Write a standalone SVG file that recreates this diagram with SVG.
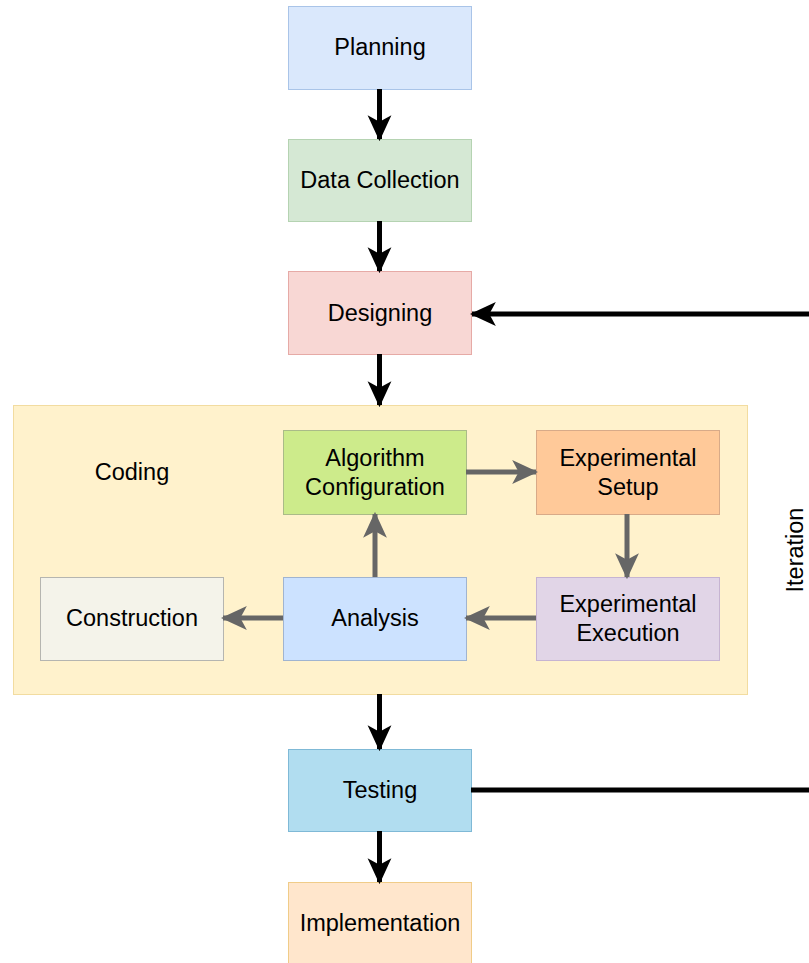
<svg xmlns="http://www.w3.org/2000/svg" width="809" height="963" viewBox="0 0 809 963">
<style>
text{font-family:"Liberation Sans",Arial,sans-serif;font-size:23.5px;fill:#000;text-anchor:middle;dominant-baseline:central}
.k{stroke:#000;stroke-width:5;fill:none}
.g{stroke:#666;stroke-width:5;fill:none}
</style>
<defs>
<marker id="ak" markerUnits="userSpaceOnUse" markerWidth="26" markerHeight="26" viewBox="0 0 24 24" refX="22" refY="12" orient="auto"><path d="M0,1 L24,12 L0,23 L6,12 Z" fill="#000"/></marker>
<marker id="ag" markerUnits="userSpaceOnUse" markerWidth="26" markerHeight="26" viewBox="0 0 24 24" refX="22" refY="12" orient="auto"><path d="M0,1 L24,12 L0,23 L6,12 Z" fill="#666"/></marker>
</defs>
<g id="coding">
<rect x="13.5" y="405.5" width="734" height="289" fill="#fff2cc" stroke="#f2dca0"/>
<text x="132" y="472">Coding</text>
</g>
<g id="planning"><rect x="288.5" y="6.5" width="183" height="83" fill="#dae8fc" stroke="#a9c4e8"/><text x="380" y="47">Planning</text></g>
<g id="datacollection"><rect x="288.5" y="139.5" width="183" height="82" fill="#d5e8d4" stroke="#b5d3b2"/><text x="380" y="180">Data Collection</text></g>
<g id="designing"><rect x="288.5" y="271.5" width="183" height="83" fill="#f8d7d4" stroke="#e6aaa6"/><text x="380" y="313">Designing</text></g>
<g id="algorithm"><rect x="283.5" y="430.5" width="183" height="84" fill="#cdeb8b" stroke="#aabb88"/><text x="375" y="458">Algorithm</text><text x="375" y="487">Configuration</text></g>
<g id="setup"><rect x="536.5" y="430.5" width="183" height="84" fill="#ffc999" stroke="#d8aa88"/><text x="628" y="458">Experimental</text><text x="628" y="487">Setup</text></g>
<g id="construction"><rect x="40.5" y="577.5" width="183" height="83" fill="#f4f3ea" stroke="#b5b5b0"/><text x="132" y="618">Construction</text></g>
<g id="analysis"><rect x="283.5" y="577.5" width="183" height="83" fill="#cce2ff" stroke="#a0b4d0"/><text x="375" y="618">Analysis</text></g>
<g id="execution"><rect x="536.5" y="577.5" width="183" height="83" fill="#e1d5e7" stroke="#c6b4d2"/><text x="628" y="604">Experimental</text><text x="628" y="633">Execution</text></g>
<g id="testing"><rect x="288.5" y="749.5" width="183" height="82" fill="#b1ddf0" stroke="#7fb9d6"/><text x="380" y="790">Testing</text></g>
<g id="implementation"><rect x="288.5" y="882.5" width="183" height="84" fill="#ffe6cc" stroke="#f0cc88"/><text x="380" y="923">Implementation</text></g>
<g id="iteration-label"><text x="795" y="550" transform="rotate(-90 795 550)">Iteration</text></g>
<g id="connectors">
<line class="k" x1="379.5" y1="89" x2="379.5" y2="139" marker-end="url(#ak)"/>
<line class="k" x1="379.5" y1="221" x2="379.5" y2="271" marker-end="url(#ak)"/>
<line class="k" x1="379.5" y1="354" x2="379.5" y2="405" marker-end="url(#ak)"/>
<line class="k" x1="379.5" y1="694" x2="379.5" y2="749" marker-end="url(#ak)"/>
<line class="k" x1="379.5" y1="831" x2="379.5" y2="882" marker-end="url(#ak)"/>
<line class="k" x1="471" y1="790" x2="809" y2="790"/>
<line class="k" x1="809" y1="314" x2="472" y2="314" marker-end="url(#ak)"/>
<line class="g" x1="466" y1="472" x2="536" y2="472" marker-end="url(#ag)"/>
<line class="g" x1="627" y1="514" x2="627" y2="577" marker-end="url(#ag)"/>
<line class="g" x1="536" y1="618" x2="466" y2="618" marker-end="url(#ag)"/>
<line class="g" x1="375" y1="577" x2="375" y2="514" marker-end="url(#ag)"/>
<line class="g" x1="283" y1="618" x2="223" y2="618" marker-end="url(#ag)"/>
</g>
</svg>
